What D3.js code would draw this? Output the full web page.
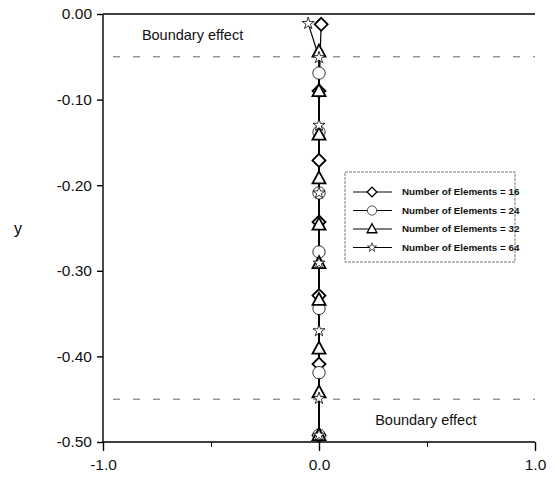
<!DOCTYPE html>
<html><head><meta charset="utf-8">
<script src="https://cdn.jsdelivr.net/npm/d3@7"></script>
<style>body{margin:0;background:#fff}</style>
</head><body>
<svg id="c" width="558" height="488"></svg>
<script>
// ---- data ----
const yTicks = [0, -0.1, -0.2, -0.3, -0.4, -0.5];
const yTickLabels = ["0.00", "-0.10", "-0.20", "-0.30", "-0.40", "-0.50"];
const xTicks = [-1, 0, 1];
const xTickLabels = ["-1.0", "0.0", "1.0"];
const xMinorTicks = [-0.5, 0.5];
const boundaryLines = [-0.05, -0.45];
const seriesNames = ["Number of Elements = 16","Number of Elements = 24","Number of Elements = 32","Number of Elements = 64"];
const s16x = [0.01, 0, 0, 0, 0, 0, 0];
const s16y = [-0.012, -0.09, -0.171, -0.243, -0.329, -0.409, -0.492];
const s24x = [0, 0, 0, 0, 0, 0, 0];
const s24y = [-0.069, -0.138, -0.209, -0.278, -0.344, -0.419, -0.492];
const s32x = [0, 0, 0, 0, 0, 0, 0, 0, 0, 0];
const s32y = [-0.044, -0.09, -0.141, -0.192, -0.246, -0.291, -0.334, -0.391, -0.442, -0.492];
const s64x = [-0.05, 0, 0, 0, 0, 0, 0, 0];
const s64y = [-0.011, -0.051, -0.13, -0.209, -0.291, -0.37, -0.449, -0.492];

const series = [
  {name: seriesNames[0], xs: s16x, ys: s16y, sym: "diamond"},
  {name: seriesNames[1], xs: s24x, ys: s24y, sym: "circle"},
  {name: seriesNames[2], xs: s32x, ys: s32y, sym: "triangle"},
  {name: seriesNames[3], xs: s64x, ys: s64y, sym: "star"}
];

const svg = d3.select("#c");
const L = 103, R = 535, T = 14, B = 442;
const x = d3.scaleLinear().domain([-1, 1]).range([L, R]);
const y = d3.scaleLinear().domain([-0.5, 0]).range([B, T]);
const font = "'Liberation Sans', Arial, sans-serif";

// axes
const gy = svg.append("g").attr("transform", `translate(${L},0)`)
  .call(d3.axisLeft(y).tickValues(yTicks).tickFormat((d, i) => yTickLabels[i]).tickSize(6).tickPadding(5));
const gx = svg.append("g").attr("transform", `translate(0,${B})`)
  .call(d3.axisBottom(x).tickValues(xTicks).tickFormat((d, i) => xTickLabels[i]).tickSize(9).tickPadding(8));
svg.append("g").attr("transform", `translate(0,${B})`)
  .call(d3.axisBottom(x).tickValues(xMinorTicks).tickFormat("").tickSize(5))
  .select(".domain").remove();
[gy, gx].forEach(g => {
  g.selectAll("text").attr("font-family", font).attr("font-size", 15.5).attr("fill", "#111");
  g.selectAll("line,path").attr("stroke", "#000").attr("stroke-width", 1.4);
});
gy.select(".domain").attr("d", `M-0,${T}V${B}`);
gx.select(".domain").attr("d", `M${L},0H${R}`);
// top frame line
svg.append("line").attr("x1", L).attr("x2", R).attr("y1", y(0)).attr("y2", y(0))
  .attr("stroke", "#000").attr("stroke-width", 1.4);

svg.append("text").attr("x", 18).attr("y", y(-0.25)).attr("dy", "0.35em")
  .attr("font-family", font).attr("font-size", 16).attr("text-anchor", "middle").text("y");

// boundary dashed lines
svg.selectAll(".bl").data(boundaryLines).join("line")
  .attr("x1", L + 10).attr("x2", R).attr("y1", d => y(d)).attr("y2", d => y(d))
  .attr("stroke", "#555").attr("stroke-width", 0.9).attr("stroke-dasharray", "7,13");
svg.append("text").attr("x", x(-0.82)).attr("y", y(-0.025)).attr("dy", "0.35em")
  .attr("font-family", font).attr("font-size", 14.5).attr("fill", "#111").text("Boundary effect");
svg.append("text").attr("x", x(0.26)).attr("y", y(-0.474)).attr("dy", "0.35em")
  .attr("font-family", font).attr("font-size", 14.5).attr("fill", "#111").text("Boundary effect");

// symbol paths
function symPath(sym) {
  if (sym === "diamond") return "M0,-6.5L6.5,0L0,6.5L-6.5,0Z";
  if (sym === "circle") return d3.symbol(d3.symbolCircle, 120)();
  if (sym === "triangle") return "M0,-7L6.5,5L-6.5,5Z";
  return d3.symbol(d3.symbolStar, 45)();
}

const line = d3.line().x(d => x(d[0])).y(d => y(d[1]));
series.forEach(s => {
  const pts = s.ys.map((v, i) => [s.xs[i], v]);
  svg.append("path").attr("d", line(pts)).attr("fill", "none").attr("stroke", "#000").attr("stroke-width", 1.2);
});
series.forEach(s => {
  const pts = s.ys.map((v, i) => [s.xs[i], v]);
  svg.selectAll(null).data(pts).join("path")
    .attr("d", symPath(s.sym))
    .attr("transform", d => `translate(${x(d[0])},${y(d[1])})`)
    .attr("fill", "#fff").attr("stroke", "#000")
    .attr("stroke-width", s.sym === "circle" ? 0.8 : (s.sym === "star" ? 0.8 : 1.8));
});

// legend
const lg = svg.append("g").attr("transform", "translate(345,172)");
lg.append("rect").attr("width", 170).attr("height", 90).attr("fill", "#fff")
  .attr("stroke", "#555").attr("stroke-width", 0.8).attr("stroke-dasharray", "3,1");
series.forEach((s, i) => {
  const yy = 20 + i * 18.5;
  lg.append("line").attr("x1", 8).attr("x2", 47).attr("y1", yy).attr("y2", yy)
    .attr("stroke", "#000").attr("stroke-width", 1.2);
  lg.append("path").attr("d", symPath(s.sym)).attr("transform", `translate(27,${yy}) scale(0.75)`)
    .attr("fill", "#fff").attr("stroke", "#000")
    .attr("stroke-width", s.sym === "circle" || s.sym === "star" ? 0.9 : 1.8);
  lg.append("text").attr("x", 57).attr("y", yy).attr("dy", "0.35em")
    .attr("font-family", font).attr("font-size", 9.8).attr("font-weight", "bold").attr("fill", "#111").text(s.name);
});
</script>
</body></html>
